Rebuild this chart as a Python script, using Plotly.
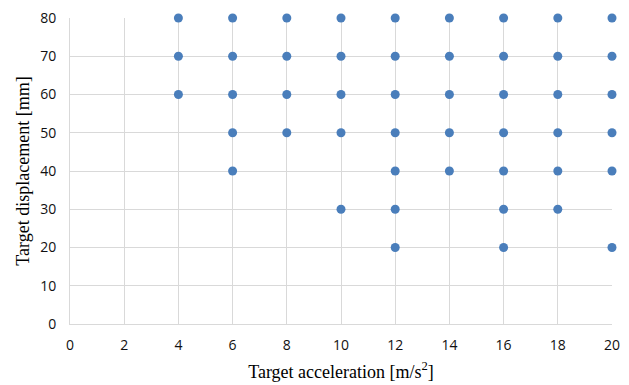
import plotly.graph_objects as go

acc_4 = [60, 70, 80]
acc_6 = [40, 50, 60, 70, 80]
acc_8 = [50, 60, 70, 80]
acc_10 = [30, 50, 60, 70, 80]
acc_12 = [20, 30, 40, 50, 60, 70, 80]
acc_14 = [40, 50, 60, 70, 80]
acc_16 = [20, 30, 40, 50, 60, 70, 80]
acc_18 = [30, 40, 50, 60, 70, 80]
acc_20 = [20, 40, 50, 60, 70, 80]

groups = {4: acc_4, 6: acc_6, 8: acc_8, 10: acc_10, 12: acc_12,
          14: acc_14, 16: acc_16, 18: acc_18, 20: acc_20}
xs, ys = [], []
for a, disps in groups.items():
    for d in disps:
        xs.append(a)
        ys.append(d)

x_ticks = list(range(0, 21, 2))
y_ticks = list(range(0, 81, 10))

fig = go.Figure(go.Scatter(
    x=xs, y=ys, mode="markers",
    marker=dict(color="#4a7ebb", size=9, line=dict(width=0)),
    cliponaxis=False, showlegend=False))

tickfont = dict(family="Open Sans, Liberation Sans, sans-serif", size=14, color="#111")
titlefont = dict(family="Liberation Serif, Times New Roman, serif", size=18, color="#000")

fig.update_layout(
    width=629, height=385,
    margin=dict(l=70, r=17, t=18, b=61),
    paper_bgcolor="white", plot_bgcolor="white",
    xaxis=dict(range=[0, 20], tickvals=x_ticks, showgrid=True, gridcolor="#d9d9d9",
               gridwidth=1, zeroline=False, showline=True, linecolor="#d9d9d9",
               automargin=False,
               ticks="outside", ticklen=8, tickcolor="rgba(0,0,0,0)", tickfont=tickfont,
               title=dict(text="Target acceleration [m/s<sup>2</sup>]", font=titlefont, standoff=12)),
    yaxis=dict(range=[0, 80], tickvals=y_ticks, showgrid=True, gridcolor="#d9d9d9",
               gridwidth=1, zeroline=False, showline=True, linecolor="#d9d9d9",
               automargin=False,
               ticks="outside", ticklen=10, tickcolor="rgba(0,0,0,0)", tickfont=tickfont,
               title=dict(text="Target displacement [mm]", font=titlefont, standoff=5)),
)
fig.write_html("out.html")
